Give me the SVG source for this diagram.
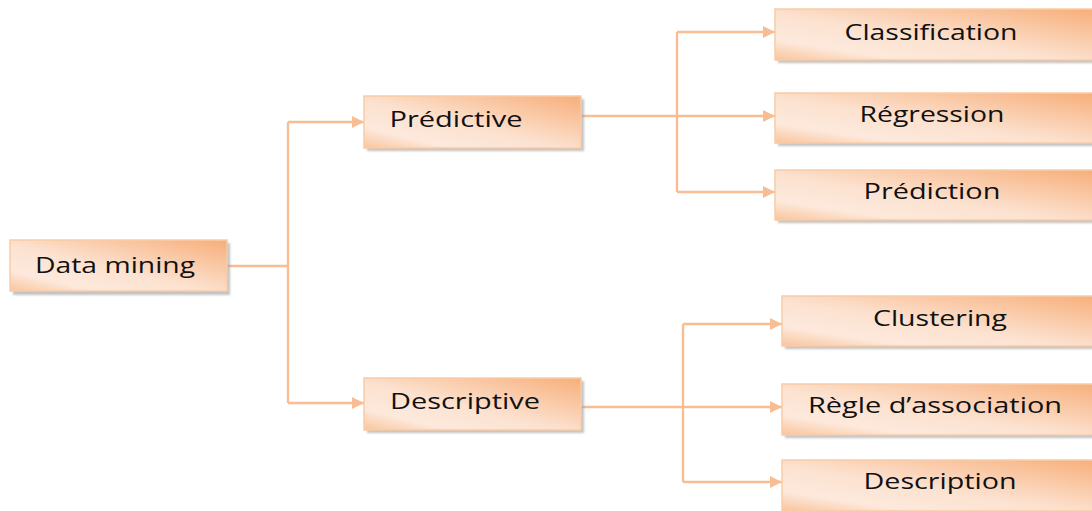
<svg xmlns="http://www.w3.org/2000/svg" width="1092" height="511" viewBox="0 0 1092 511">
  <style>
    .box { fill: url(#boxFill); stroke: #F9CBA7; stroke-width: 1.5; }
    .shadow { fill: #9a9a9a; opacity: 0.6; filter: url(#soft); }
    .label { font-family: "Open Sans", "Liberation Sans", sans-serif; font-size: 22px; font-weight: 500; fill: #111; text-anchor: middle; }
    .link { fill: none; stroke: #F8BD92; stroke-width: 2.4; }
  </style>
  <defs>
    <linearGradient id="boxFill" x1="1" y1="0" x2="0" y2="1">
      <stop offset="0" stop-color="#F7AE79"/>
      <stop offset="0.55" stop-color="#FCE2D0"/>
      <stop offset="0.8" stop-color="#FDE9DC"/>
      <stop offset="1" stop-color="#F9C49C"/>
    </linearGradient>
    <filter id="soft" x="-5%" y="-20%" width="110%" height="140%">
      <feGaussianBlur stdDeviation="0.8"/>
    </filter>
    <marker id="arrow" viewBox="0 0 10 10" refX="10" refY="5" markerWidth="17" markerHeight="12" markerUnits="userSpaceOnUse" orient="auto">
      <path d="M0,0 L10,5 L0,10 z" fill="#F8BD92"/>
    </marker>
  </defs>

  <!-- connectors -->
  <g id="connectors">
    <path class="link" d="M227,266 H288"/>
    <path class="link" d="M288,122 V403"/>
    <path class="link" d="M288,122 H364" marker-end="url(#arrow)"/>
    <path class="link" d="M288,403 H364" marker-end="url(#arrow)"/>

    <path class="link" d="M581,116 H775" marker-end="url(#arrow)"/>
    <path class="link" d="M677,32 V192"/>
    <path class="link" d="M677,32 H775" marker-end="url(#arrow)"/>
    <path class="link" d="M677,192 H775" marker-end="url(#arrow)"/>

    <path class="link" d="M581,407 H782" marker-end="url(#arrow)"/>
    <path class="link" d="M683,324 V482"/>
    <path class="link" d="M683,324 H782" marker-end="url(#arrow)"/>
    <path class="link" d="M683,482 H782" marker-end="url(#arrow)"/>
  </g>

  <!-- nodes -->
  <g id="data-mining">
    <rect class="shadow" x="13" y="243" width="217" height="52"/>
    <rect class="box" x="10" y="240" width="217" height="51"/>
    <text class="label" x="115" y="273" textLength="160" lengthAdjust="spacingAndGlyphs">Data mining</text>
  </g>
  <g id="predictive">
    <rect class="shadow" x="367" y="99" width="217" height="52"/>
    <rect class="box" x="364" y="96" width="217" height="52"/>
    <text class="label" x="456" y="127" textLength="133" lengthAdjust="spacingAndGlyphs">Prédictive</text>
  </g>
  <g id="descriptive">
    <rect class="shadow" x="367" y="381" width="217" height="52"/>
    <rect class="box" x="364" y="378" width="217" height="52"/>
    <text class="label" x="465" y="409" textLength="150" lengthAdjust="spacingAndGlyphs">Descriptive</text>
  </g>
  <g id="classification">
    <rect class="shadow" x="778" y="12" width="320" height="51"/>
    <rect class="box" x="775" y="9" width="320" height="51"/>
    <text class="label" x="931" y="40" textLength="173" lengthAdjust="spacingAndGlyphs">Classification</text>
  </g>
  <g id="regression">
    <rect class="shadow" x="778" y="96" width="320" height="50"/>
    <rect class="box" x="775" y="93" width="320" height="50"/>
    <text class="label" x="932" y="122" textLength="145" lengthAdjust="spacingAndGlyphs">Régression</text>
  </g>
  <g id="prediction">
    <rect class="shadow" x="778" y="173" width="320" height="50"/>
    <rect class="box" x="775" y="170" width="320" height="50"/>
    <text class="label" x="932" y="199" textLength="137" lengthAdjust="spacingAndGlyphs">Prédiction</text>
  </g>
  <g id="clustering">
    <rect class="shadow" x="785" y="299" width="320" height="50"/>
    <rect class="box" x="782" y="296" width="320" height="50"/>
    <text class="label" x="940" y="326" textLength="134" lengthAdjust="spacingAndGlyphs">Clustering</text>
  </g>
  <g id="association">
    <rect class="shadow" x="785" y="387" width="320" height="51"/>
    <rect class="box" x="782" y="384" width="320" height="51"/>
    <text class="label" x="935" y="413" textLength="254" lengthAdjust="spacingAndGlyphs">Règle d’association</text>
  </g>
  <g id="description">
    <rect class="shadow" x="785" y="463" width="320" height="51"/>
    <rect class="box" x="782" y="460" width="320" height="51"/>
    <text class="label" x="940" y="489" textLength="153" lengthAdjust="spacingAndGlyphs">Description</text>
  </g>
</svg>
